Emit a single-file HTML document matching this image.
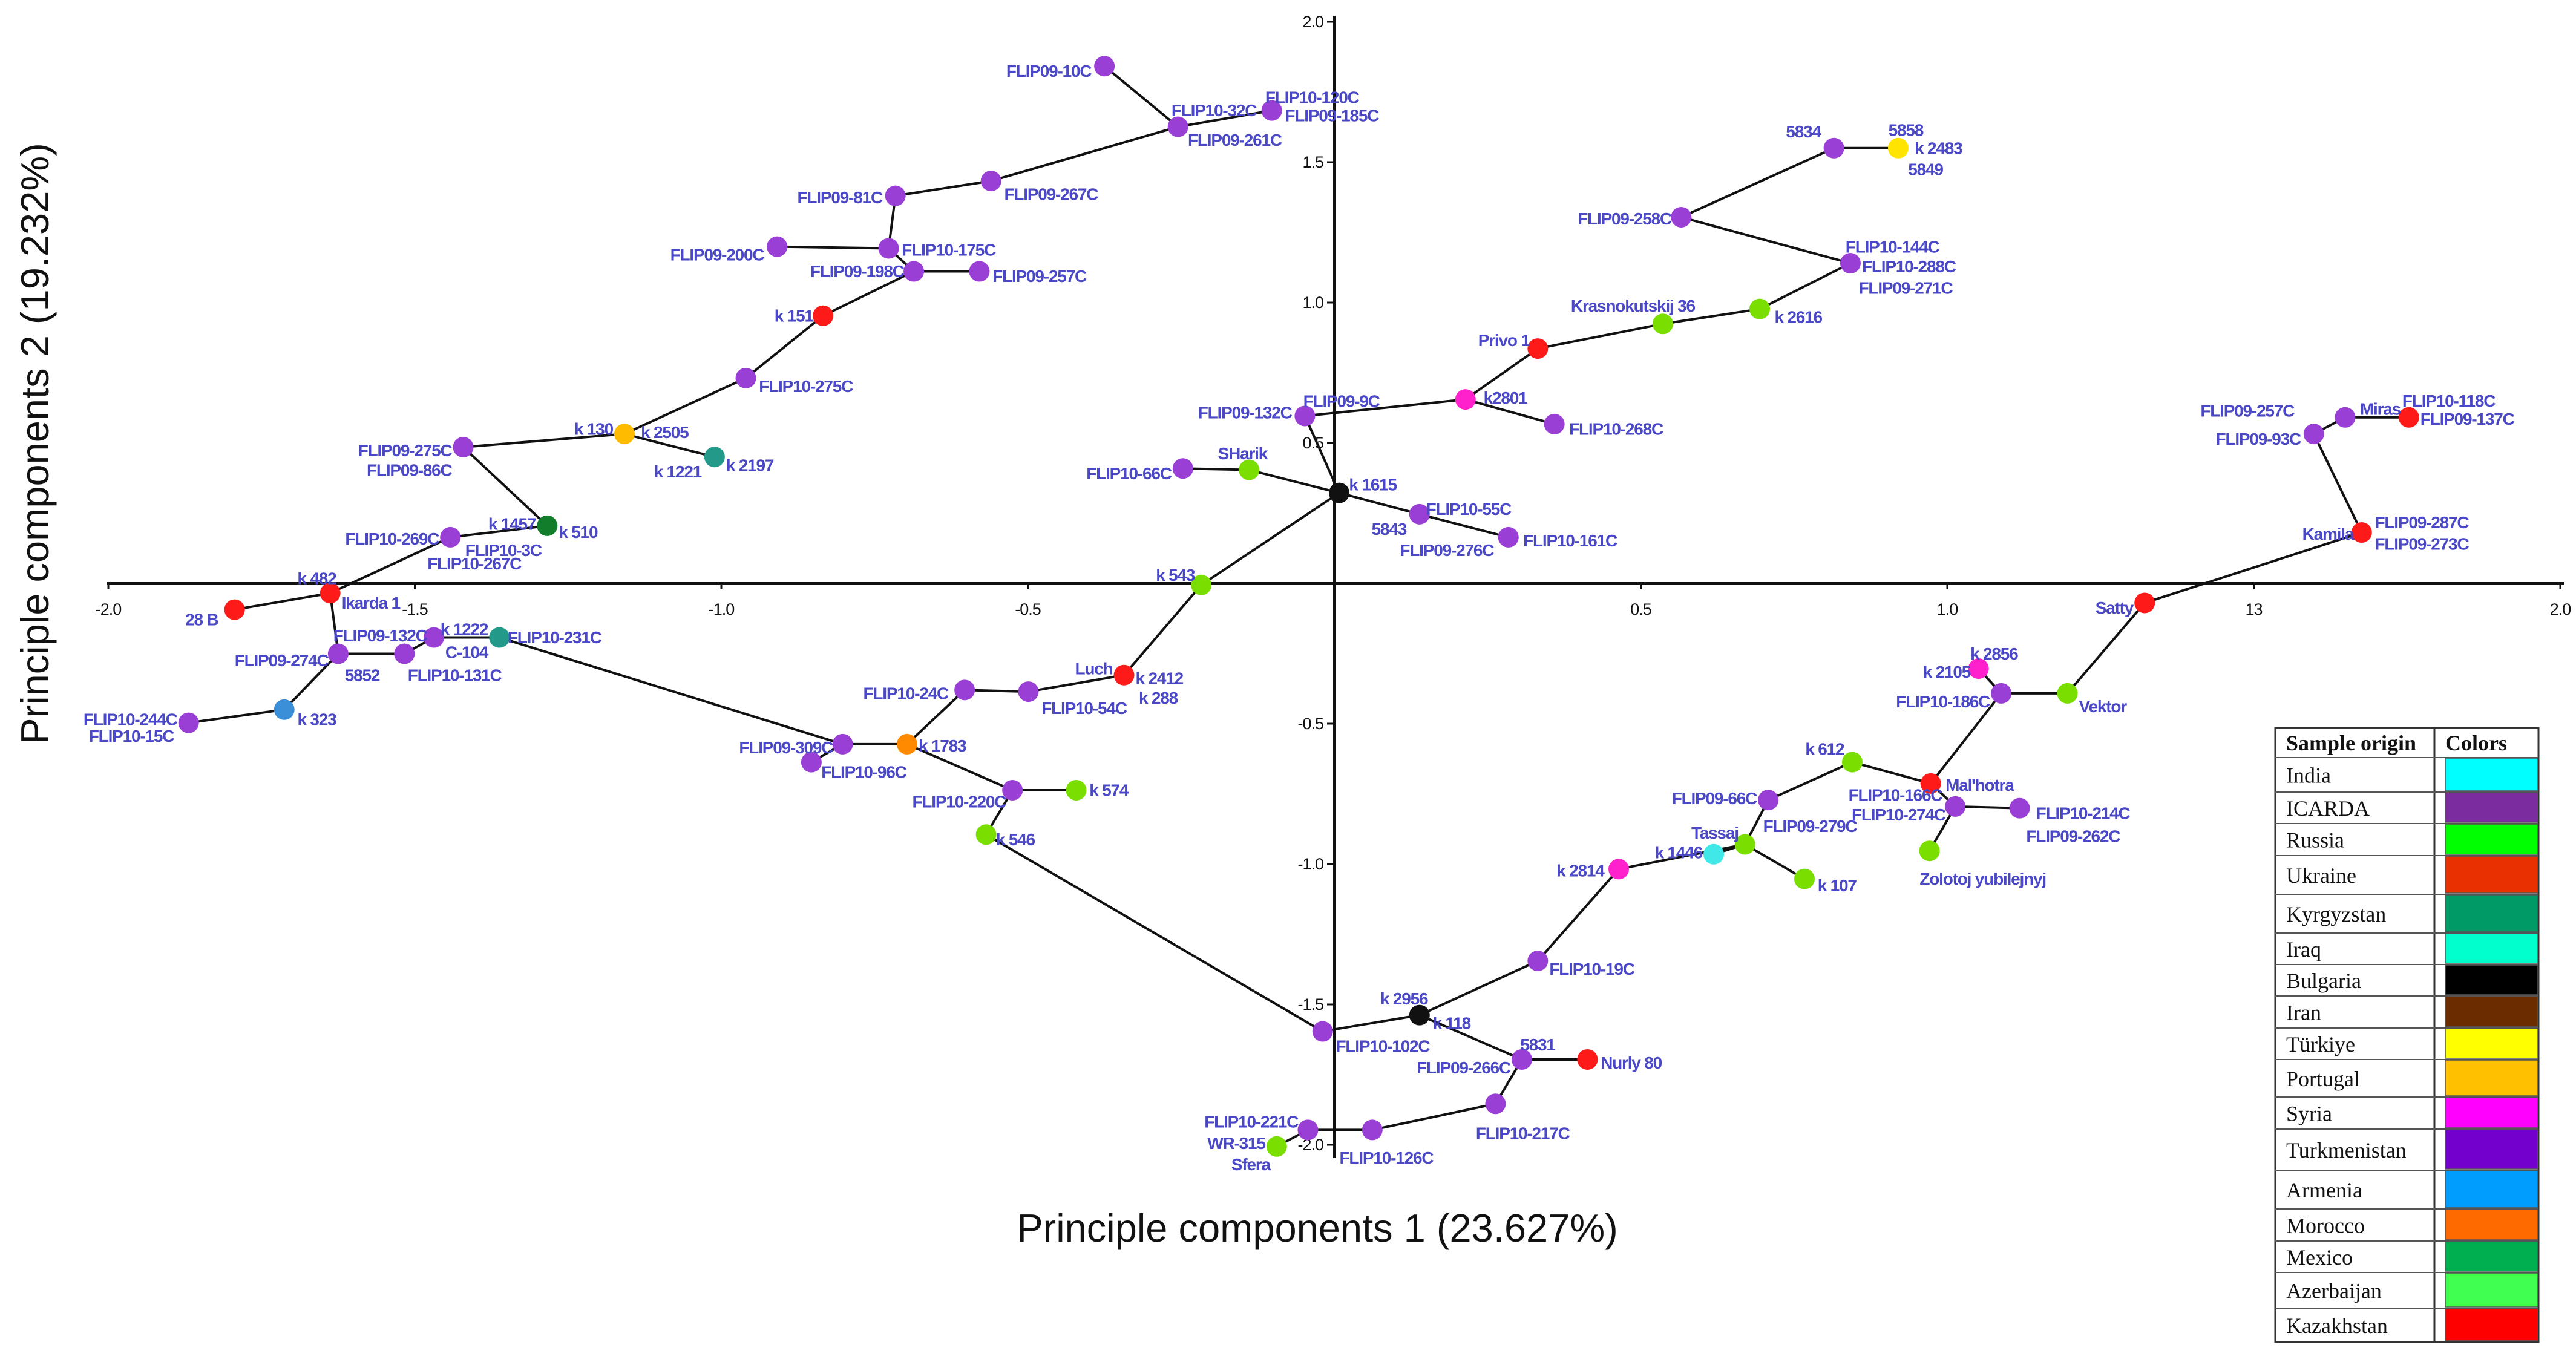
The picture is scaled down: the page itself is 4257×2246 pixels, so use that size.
<!DOCTYPE html>
<html><head><meta charset="utf-8">
<style>
html,body{margin:0;padding:0;background:#fff;}
svg{display:block;}
.lbl{font-family:"Liberation Sans Narrow","Liberation Sans",sans-serif;font-weight:bold;font-size:28px;letter-spacing:-1.2px;fill:#4a48c6;dominant-baseline:central;}
.tick{font-family:"Liberation Sans Narrow","Liberation Sans",sans-serif;font-size:27px;letter-spacing:-1px;fill:#111;}
.title{font-family:"Liberation Sans",sans-serif;font-size:65px;fill:#111;}
.leg{font-family:"Liberation Serif",serif;font-size:36px;fill:#111;}
</style></head>
<body>
<svg id="chart" width="4257" height="2246" viewBox="0 0 4257 2246" xmlns="http://www.w3.org/2000/svg">
<g id="edges"></g>
<g id="axes"></g>
<g id="nodes"></g>
<g id="labels"></g>
<text class="title" x="2177" y="2052" text-anchor="middle">Principle components 1 (23.627%)</text>
<text class="title" transform="translate(80,733) rotate(-90)" text-anchor="middle">Principle components 2 (19.232%)</text>
<g id="legend"></g>
</svg>
<script>
// ---- data ----
const nodeX = [-0.375,-0.255,-0.102,-0.560,-0.716,-0.727,-0.909,-0.686,-0.579,-0.834,-0.960,-1.158,-1.011,-1.421,-1.284,-1.442,-1.638,-1.794,-1.625,-1.517,-1.469,-1.362,-1.713,-1.869,-0.802,-0.853,-0.697,-0.603,-0.499,-0.343,-0.217,-0.525,-0.421,-0.568,0.008,-0.139,-0.247,-0.048,0.139,0.284,0.214,0.359,0.332,0.536,0.694,0.566,0.815,0.920,0.842,1.598,1.649,1.753,1.676,1.322,1.196,1.088,1.051,0.973,0.845,1.013,1.118,0.971,0.708,0.670,0.619,0.767,0.464,0.332,0.139,-0.019,0.306,0.413,0.263,0.062,-0.043,-0.094];
const nodeY = [1.842,1.626,1.684,1.433,1.380,1.193,1.199,1.111,1.111,0.953,0.731,0.532,0.450,0.485,0.205,0.164,-0.035,-0.094,-0.251,-0.251,-0.193,-0.193,-0.450,-0.497,-0.573,-0.637,-0.573,-0.380,-0.386,-0.327,-0.006,-0.737,-0.737,-0.895,0.322,0.404,0.409,0.596,0.246,0.164,0.655,0.567,0.836,0.924,0.977,1.304,1.550,1.550,1.140,0.532,0.591,0.591,0.181,-0.070,-0.392,-0.392,-0.304,-0.713,-0.637,-0.795,-0.801,-0.953,-0.772,-0.930,-0.965,-1.053,-1.018,-1.345,-1.538,-1.596,-1.696,-1.696,-1.854,-1.947,-1.947,-2.006];
const nodeOrigin = ["ICARDA","ICARDA","ICARDA","ICARDA","ICARDA","ICARDA","ICARDA","ICARDA","ICARDA","Kazakhstan","ICARDA","Portugal","Kyrgyzstan","ICARDA","Mexico","ICARDA","Kazakhstan","Kazakhstan","ICARDA","ICARDA","ICARDA","Kyrgyzstan","Armenia","ICARDA","ICARDA","ICARDA","Morocco","ICARDA","ICARDA","Kazakhstan","Russia","ICARDA","Russia","Russia","Bulgaria","Russia","ICARDA","ICARDA","ICARDA","ICARDA","Syria","ICARDA","Kazakhstan","Russia","Russia","ICARDA","ICARDA","Türkiye","ICARDA","ICARDA","ICARDA","Kazakhstan","Kazakhstan","Kazakhstan","Russia","ICARDA","Syria","Kazakhstan","Russia","ICARDA","ICARDA","Russia","ICARDA","Russia","India","Russia","Syria","ICARDA","Bulgaria","ICARDA","ICARDA","Kazakhstan","ICARDA","ICARDA","ICARDA","Russia"];
const edgeFrom = [1,2,2,4,5,6,6,8,8,10,11,12,12,14,15,16,17,17,19,20,21,19,23,22,25,25,27,28,29,30,27,32,32,31,35,36,35,38,35,39,41,41,43,44,45,49,46,47,34,70,69,68,67,64,64,64,63,59,58,60,60,58,56,56,55,54,53,50,51,69,71,71,73,74,75];
const edgeTo   = [2,3,4,5,6,7,8,9,10,11,12,13,14,15,16,17,18,19,20,21,22,23,24,25,26,27,28,29,30,31,32,33,34,35,36,37,38,41,39,40,42,43,44,45,49,46,47,48,70,69,68,67,64,65,66,63,59,58,60,61,62,56,57,55,54,53,50,51,52,71,72,73,74,75,76];
// label: node index, text, and layout offsets
const labelNode = [1,2,2,3,3,4,5,6,7,8,9,10,11,12,12,13,13,14,14,15,15,16,16,16,17,17,18,19,19,19,20,21,21,22,23,24,24,25,26,27,28,29,30,30,30,31,32,33,34,35,36,37,38,38,39,39,40,40,41,42,43,44,45,46,47,48,48,48,49,49,49,50,50,51,52,52,53,53,53,54,55,56,57,57,58,59,60,60,61,61,62,63,64,64,65,66,67,68,69,69,70,71,71,72,73,74,75,76,76];
const labelText = ["FLIP09-10C","FLIP10-32C","FLIP09-261C","FLIP10-120C","FLIP09-185C","FLIP09-267C","FLIP09-81C","FLIP10-175C","FLIP09-200C","FLIP09-198C","FLIP09-257C","k 151","FLIP10-275C","k 130","k 2505","k 2197","k 1221","FLIP09-275C","FLIP09-86C","k 510","k 1457","FLIP10-269C","FLIP10-3C","FLIP10-267C","k 482","Ikarda 1","28 B","FLIP09-132C","FLIP09-274C","5852","FLIP10-131C","k 1222","C-104","FLIP10-231C","k 323","FLIP10-244C","FLIP10-15C","FLIP09-309C","FLIP10-96C","k 1783","FLIP10-24C","FLIP10-54C","Luch","k 2412","k 288","k 543","FLIP10-220C","k 574","k 546","k 1615","SHarik","FLIP10-66C","FLIP09-9C","FLIP09-132C","FLIP10-55C","5843","FLIP10-161C","FLIP09-276C","k2801","FLIP10-268C","Privo 1","Krasnokutskij 36","k 2616","FLIP09-258C","5834","5858","k 2483","5849","FLIP10-144C","FLIP10-288C","FLIP09-271C","FLIP09-257C","FLIP09-93C","Miras","FLIP10-118C","FLIP09-137C","Kamila","FLIP09-287C","FLIP09-273C","Satty","Vektor","FLIP10-186C","k 2105","k 2856","Mal'hotra","k 612","FLIP10-166C","FLIP10-274C","FLIP10-214C","FLIP09-262C","Zolotoj yubilejnyj","FLIP09-66C","Tassaj","FLIP09-279C","k 1446","k 107","k 2814","FLIP10-19C","k 2956","k 118","FLIP10-102C","5831","FLIP09-266C","Nurly 80","FLIP10-217C","FLIP10-126C","FLIP10-221C","WR-315","Sfera"];
const labelPos = [[-8,3,'e'],[-4,-10,'s'],[6,8,'s'],[-4,-8,'s'],[8,3,'s'],[8,8,'s'],[-8,1,'e'],[8,1,'s'],[-8,5,'e'],[-6,0,'e'],[8,3,'s'],[-6,0,'e'],[8,5,'s'],[-7,-3,'e'],[10,-1,'s'],[7,5,'s'],[-8,9,'e'],[-7,2,'e'],[-7,14,'e'],[7,4,'s'],[-7,-1,'e'],[-7,1,'e'],[9,8,'s'],[-14,16,'s'],[-20,-9,'s'],[7,6,'s'],[-10,6,'e'],[-3,-11,'s'],[-6,4,'e'],[4,13,'s'],[2,13,'s'],[4,-5,'s'],[7,9,'s'],[5,0,'s'],[8,6,'s'],[-7,-2,'e'],[-9,8,'e'],[-6,2,'e'],[6,6,'s'],[7,1,'s'],[-10,2,'e'],[8,10,'s'],[-7,-4,'e'],[7,2,'s'],[9,14,'s'],[-4,-6,'e'],[-4,7,'e'],[8,0,'s'],[6,3,'s'],[6,-5,'s'],[-19,-10,'s'],[-7,3,'e'],[-1,-9,'s'],[-8,-2,'e'],[4,-3,'s'],[-8,9,'e'],[9,2,'s'],[-9,8,'e'],[11,-1,'s'],[9,3,'s'],[-5,-5,'e'],[-56,-11,'s'],[9,5,'s'],[-6,1,'e'],[-8,-10,'e'],[-6,-11,'s'],[10,0,'s'],[6,13,'s'],[-3,-10,'s'],[7,2,'s'],[5,15,'s'],[-12,-14,'e'],[-8,3,'e'],[9,-5,'s'],[-4,-10,'s'],[7,1,'s'],[-5,1,'e'],[8,-6,'s'],[8,7,'s'],[-7,3,'e'],[7,8,'s'],[-7,5,'e'],[-5,2,'e'],[-5,-9,'s'],[9,1,'s'],[-5,-8,'e'],[-8,-7,'e'],[-6,5,'e'],[10,3,'s'],[4,17,'s'],[-6,17,'s'],[-7,-1,'e'],[-4,-7,'e'],[11,-11,'s'],[-7,-1,'e'],[8,4,'s'],[-9,1,'e'],[7,5,'s'],[5,-10,'e'],[8,5,'s'],[8,9,'s'],[-1,-9,'s'],[-7,5,'e'],[8,2,'s'],[-12,18,'s'],[-20,17,'s'],[-6,-5,'e'],[-7,-2,'e'],[-4,11,'e']];
const xTicks = [-2.0,-1.5,-1.0,-0.5,0.5,1.0,1.5,2.0];
const xTickText = ["-2.0","-1.5","-1.0","-0.5","0.5","1.0","13","2.0"];
const yTicks = [2.0,1.5,1.0,0.5,-0.5,-1.0,-1.5,-2.0];
const yTickText = ["2.0","1.5","1.0","0.5","-0.5","-1.0","-1.5","-2.0"];
const legendNames = ["India","ICARDA","Russia","Ukraine","Kyrgyzstan","Iraq","Bulgaria","Iran","Türkiye","Portugal","Syria","Turkmenistan","Armenia","Morocco","Mexico","Azerbaijan","Kazakhstan"];
const legendColors = ["#00ffff","#7b2c9f","#00ff00","#e83000","#009a66","#00ffcc","#000000","#6b2c00","#ffff00","#ffc000","#ff00ff","#7300cc","#009dff","#ff6a00","#00b050","#40ff50","#ff0000"];
const nodeColorMap = {"ICARDA":"#9a3fd5","Kazakhstan":"#ff1a1a","Russia":"#7ade00","Portugal":"#ffbb00","Kyrgyzstan":"#23998a","Mexico":"#127d2a","Armenia":"#3a8fd8","Morocco":"#ff8a00","Bulgaria":"#111111","Syria":"#ff22cc","Türkiye":"#ffe400","India":"#40e8e8"};

// ---- scales ----
const S = 2.715;
const X0 = 2205, Y0 = 964, UX = 1013, UY = 464;
const sx = v => X0 + v*UX;
const sy = v => Y0 - v*UY;
const NS = "http://www.w3.org/2000/svg";
function mk(tag, parent, attrs){const e=document.createElementNS(NS,tag);for(const k in attrs)e.setAttribute(k,attrs[k]);parent.appendChild(e);return e;}

// axes
const ax = document.getElementById('axes');
let e = mk('line', ax, {x1:sx(-2.0)-2,y1:Y0,x2:sx(2.0)+6,y2:Y0,stroke:'#111','stroke-width':4});


e = mk('line', ax, {x1:X0,y1:sy(2.0)-10,x2:X0,y2:sy(-2.0)+22,stroke:'#111','stroke-width':4});


xTicks.forEach((v,i)=>{
  const t = mk('line', ax, {x1:sx(v),y1:Y0,x2:sx(v),y2:Y0+10,stroke:'#111','stroke-width':3});
  
  
  const tx = mk('text', ax, {x:sx(v),y:Y0+52,'text-anchor':'middle','class':'tick'});
  tx.textContent = xTickText[i];
  
  
});
yTicks.forEach((v,i)=>{
  const t = mk('line', ax, {x1:X0-12,y1:sy(v),x2:X0,y2:sy(v),stroke:'#111','stroke-width':3});
  
  
  const tx = mk('text', ax, {x:X0-18,y:sy(v)+9,'text-anchor':'end','class':'tick'});
  tx.textContent = yTickText[i];
  
  
});

// edges
const eg = document.getElementById('edges');
edgeFrom.forEach((a,i)=>{
  const b = edgeTo[i];
  const l = mk('line', eg, {x1:sx(nodeX[a-1]),y1:sy(nodeY[a-1]),x2:sx(nodeX[b-1]),y2:sy(nodeY[b-1]),stroke:'#111','stroke-width':4});
  
  
});

// nodes
const ng = document.getElementById('nodes');
nodeX.forEach((v,i)=>{
  const c = mk('circle', ng, {cx:sx(v),cy:sy(nodeY[i]),r:17,fill:nodeColorMap[nodeOrigin[i]]});
  
  
});

// labels
const lg = document.getElementById('labels');
labelNode.forEach((n,i)=>{
  const p = labelPos[i];
  const t = mk('text', lg, {x:sx(nodeX[n-1])+p[0]*S,y:sy(nodeY[n-1])+p[1]*S,'text-anchor':p[2]==='e'?'end':'start','class':'lbl'});
  t.textContent = labelText[i];
  
  
});

// legend
const leg = document.getElementById('legend');
const LX0=3760, LX1=4195, LDIV=4023;
const rowLines=[1203,1252,1309,1361,1414,1478,1542,1594,1646,1699,1751,1813,1866,1934,1998,2051,2103,2162,2218];
let r = mk('rect', leg, {x:LX0,y:1203,width:LX1-LX0,height:2218-1203,fill:'#fff',stroke:'#333','stroke-width':3});


mk('line', leg, {x1:LDIV,y1:1203,x2:LDIV,y2:2218,stroke:'#333','stroke-width':3});
rowLines.slice(1,-1).forEach(y=>mk('line', leg, {x1:LX0,y1:y,x2:LX1,y2:y,stroke:'#555','stroke-width':2}));
let h = mk('text', leg, {x:LX0+18,y:1240,'class':'leg','font-weight':'bold'});
h.textContent='Sample origin';


h = mk('text', leg, {x:LDIV+18,y:1240,'class':'leg','font-weight':'bold'});
h.textContent='Colors';


legendNames.forEach((nm,i)=>{
  const y0=rowLines[i+1], y1=rowLines[i+2];
  const sw = mk('rect', leg, {x:4041,y:y0+1,width:153,height:y1-y0-3,fill:legendColors[i],stroke:'#555','stroke-width':1.5});
  
  
  const t = mk('text', leg, {x:LX0+18,y:(y0+y1)/2+13,'class':'leg'});
  t.textContent=nm;
  
  
});
</script>
</body></html>
